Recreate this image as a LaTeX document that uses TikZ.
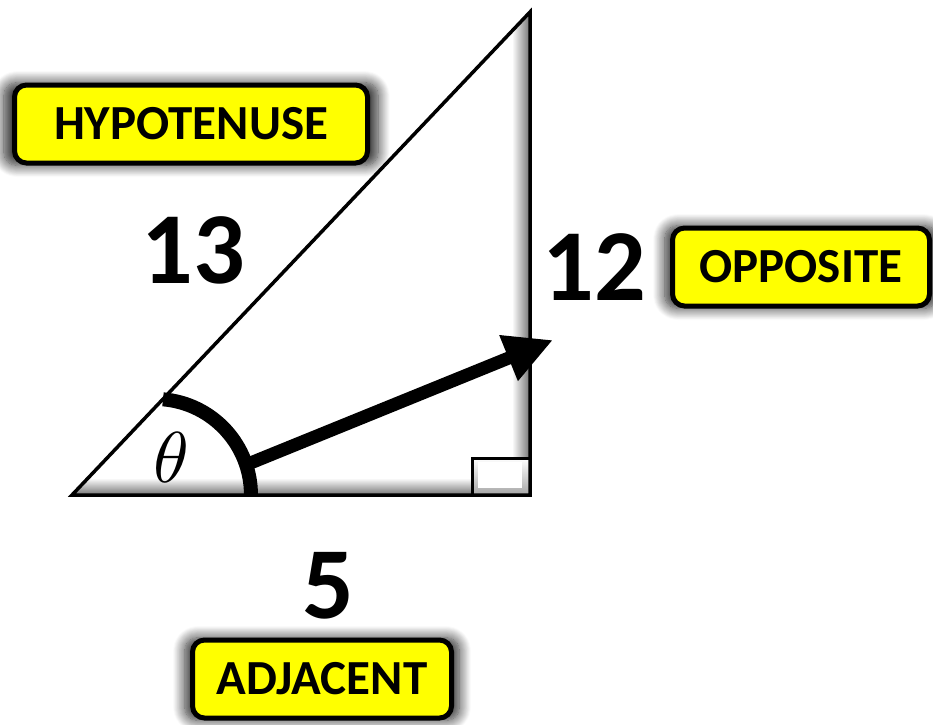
\documentclass[tikz,border=0pt]{standalone}
\usepackage{fontspec}
\setmainfont{Carlito}
\usetikzlibrary{shadows.blur,arrows.meta,calc}
\definecolor{lblyellow}{RGB}{255,255,0}
\tikzset{
  lbl/.style={draw=black, line width=5pt, fill=lblyellow, rounded corners=12pt,
    minimum height=78pt, inner sep=0pt, font=\fontsize{49}{49}\selectfont\bfseries,
    blur shadow={shadow xshift=0pt, shadow yshift=0pt, shadow scale=1.06, shadow blur radius=11pt, shadow blur steps=14, shadow opacity=85}},
  num/.style={font=\fontsize{102}{102}\selectfont\bfseries, inner sep=0pt},
  side/.style={line width=3.5pt, line join=miter},
}
\begin{document}
\begin{tikzpicture}[x=1pt,y=-1pt]
\useasboundingbox (0,0) rectangle (933,724);
\coordinate (A) at (72,495);
\coordinate (B) at (530,495);
\coordinate (C) at (530,12);
% inner edge shading
\begin{scope}
  \clip (A) -- (B) -- (C) -- cycle;
  \shade[left color=white, right color=black!55] (512,12) rectangle (530,495);
  \shade[top color=white, bottom color=black!55] (72,478) rectangle (530,495);
\end{scope}
% right-angle box
\coordinate (S1) at (472,458);
\coordinate (S2) at (530,495);
\shade[top color=white, bottom color=black!35] (S1) rectangle (S2);
\fill[white] (478,462) rectangle (522,488);
\draw[line width=3pt] (S1) rectangle (S2);
% triangle
\draw[side] (A) -- (B) -- (C) -- cycle;
% angle arc
\draw[line width=14pt] (163,399.3) arc[start angle=-85.2, end angle=0, x radius=96, y radius=96];
\coordinate (arrS) at (248,464);
\coordinate (arrE) at (553,340);
\draw[line width=13pt, -{Triangle[length=48pt,width=46pt]}] (arrS) -- (arrE);
\node[scale=7.2, inner sep=0pt] (theta) at (171,457) {$\theta$};
% numbers
\node[num] (n13) at (193,250) {13};
\node[num] (n12) at (594,267) {12};
\node[num] (n5) at (328,586) {5};
% labels
\node[lbl, minimum width=353pt] (hyp) at (191,124) {HYPOTENUSE};
\node[lbl, minimum width=257pt] (opp) at (801,267) {OPPOSITE};
\node[lbl, minimum width=259pt] (adj) at (322,679) {ADJACENT};
\end{tikzpicture}
\end{document}
